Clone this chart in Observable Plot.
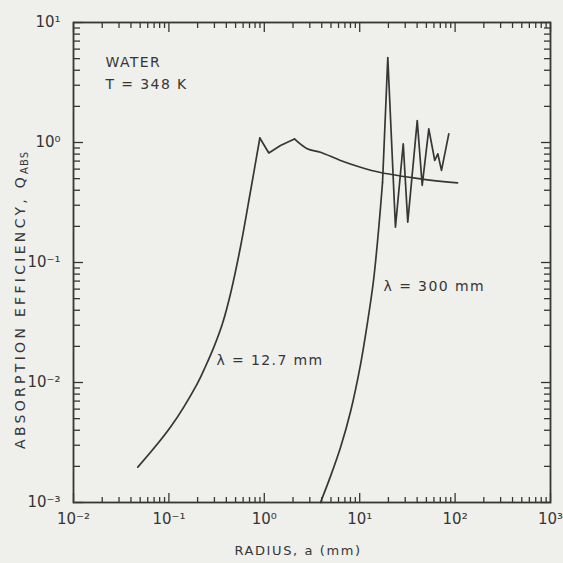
<!DOCTYPE html>
<html><head><meta charset="utf-8">
<script src="https://cdn.jsdelivr.net/npm/d3@7"></script>
<script src="https://cdn.jsdelivr.net/npm/@observablehq/plot@0.6"></script>
<style>
html,body{margin:0;padding:0;background:#efefec;}
#chart svg{display:block;}
</style></head><body><div id="chart"></div>
<script>
// λ = 12.7 mm curve
const radius127 = [0.0472,0.104,0.198,0.2418,0.296,0.3646,0.443,0.564,0.716,0.898,1.115,1.479,2.07,2.82,3.88,6.29,10.2,16.5,43.4,106];
const qabs127   = [0.00197,0.00425,0.00975,0.01359,0.0197,0.031,0.0552,0.136,0.3905,1.09,0.818,0.944,1.07,0.886,0.83,0.708,0.622,0.562,0.498,0.46];
// λ = 300 mm curve
const radius300 = [3.88,4.94,6.29,8.02,10.2,12.07,13.96,15.75,17.35,19.7,23.7,28.6,31.9,40.1,45.2,53.0,61.2,65.9,72.0,85.9];
const qabs300   = [0.001,0.00165,0.00287,0.00573,0.0141,0.0316,0.0708,0.1848,0.464,5.1,0.197,0.975,0.217,1.52,0.44,1.30,0.708,0.805,0.585,1.18];

const xMajor = [0.01,0.1,1,10,100,1000];
const xLabels = ["10\u207B\u00B2","10\u207B\u00B9","10\u2070","10\u00B9","10\u00B2","10\u00B3"];
const yMajor = [0.001,0.01,0.1,1,10];
const yLabels = ["10\u207B\u00B3","10\u207B\u00B2","10\u207B\u00B9","10\u2070","10\u00B9"];

const noteLines = ["WATER","T = 348 K"];
const curveLabels = ["\u03BB = 12.7 mm","\u03BB = 300 mm"];
const curveLabelR = [0.315, 17.8];
const curveLabelQ = [0.0152, 0.063];

const xTitle = "RADIUS, a (mm)";
const yTitleMain = "ABSORPTION EFFICIENCY, Q";
const yTitleSub = "ABS";

const d127 = radius127.map((r,i)=>({r, q:qabs127[i]}));
const d300 = radius300.map((r,i)=>({r, q:qabs300[i]}));
const labels = curveLabels.map((t,i)=>({t, r:curveLabelR[i], q:curveLabelQ[i]}));

// smooth stretches vs. sharp-cornered stretches of each curve
const peak127 = 9, tail127 = 12, top300 = 8;
const c127a = d127.slice(0, peak127 + 1);
const c127b = d127.slice(peak127, tail127 + 1);
const c127c = d127.slice(tail127);
const c300a = d300.slice(0, top300 + 1);
const c300b = d300.slice(top300);

const minorX = xMajor.slice(0,-1).flatMap(d => d3.range(2,10).map(k => k*d));
const minorY = yMajor.slice(0,-1).flatMap(d => d3.range(2,10).map(k => k*d));

const ink = "#363636";
const font = "DejaVu Sans";
const blank = () => "";
const lineStyle = {x: "r", y: "q", stroke: ink, strokeWidth: 1.7, strokeLinejoin: "round"};

const plot = Plot.plot({
  width: 563, height: 563,
  marginLeft: 73, marginRight: 13, marginTop: 22, marginBottom: 61,
  style: {background: "transparent", fontFamily: font, color: ink},
  x: {type: "log", domain: [0.01, 1000]},
  y: {type: "log", domain: [0.001, 10]},
  marks: [
    Plot.axisX({anchor: "bottom", ticks: minorX, tickSize: -5, tickFormat: blank, label: null, stroke: ink, strokeWidth: 1.3}),
    Plot.axisX({anchor: "bottom", ticks: xMajor, tickSize: -9, tickFormat: blank, label: null, stroke: ink, strokeWidth: 1.3}),
    Plot.axisX({anchor: "top", ticks: minorX, tickSize: -5, tickFormat: blank, label: null, stroke: ink, strokeWidth: 1.3}),
    Plot.axisX({anchor: "top", ticks: xMajor, tickSize: -9, tickFormat: blank, label: null, stroke: ink, strokeWidth: 1.3}),
    Plot.axisY({anchor: "left", ticks: minorY, tickSize: -7, tickFormat: blank, label: null, stroke: ink, strokeWidth: 1.3}),
    Plot.axisY({anchor: "left", ticks: yMajor, tickSize: -10, tickFormat: blank, label: null, stroke: ink, strokeWidth: 1.3}),
    Plot.axisY({anchor: "right", ticks: minorY, tickSize: -7, tickFormat: blank, label: null, stroke: ink, strokeWidth: 1.3}),
    Plot.axisY({anchor: "right", ticks: yMajor, tickSize: -10, tickFormat: blank, label: null, stroke: ink, strokeWidth: 1.3}),
    Plot.axisX({anchor: "bottom", ticks: xMajor, tickSize: 0, tickPadding: 11, fontSize: 15, fill: ink,
      tickFormat: d => xLabels[xMajor.indexOf(d)], label: null}),
    Plot.axisY({anchor: "left", ticks: yMajor, tickSize: 0, tickPadding: 13, fontSize: 15, fill: ink,
      tickFormat: d => yLabels[yMajor.indexOf(d)], label: null}),
    Plot.frame({stroke: ink, strokeWidth: 1.8}),
    Plot.line(c127a, {...lineStyle, curve: "catmull-rom"}),
    Plot.line(c127b, {...lineStyle, curve: "linear"}),
    Plot.line(c127c, {...lineStyle, curve: "catmull-rom"}),
    Plot.line(c300a, {...lineStyle, curve: "catmull-rom"}),
    Plot.line(c300b, {...lineStyle, curve: "linear"}),
    Plot.text(labels, {x: "r", y: "q", text: "t", textAnchor: "start", fontSize: 14, fill: ink}),
    Plot.text([noteLines.join("\n")], {frameAnchor: "top-left", dx: 32, dy: 29, lineAnchor: "top",
      textAnchor: "start", fontSize: 14, lineHeight: 1.55, fill: ink})
  ]
});

document.getElementById("chart").appendChild(plot);

const svg = d3.select(plot);
// widen the hand-lettered note / curve labels
svg.selectAll("text").filter(function(){ return /WATER|\u03BB/.test(this.textContent); })
  .attr("letter-spacing", 1.4);

svg.append("text")
  .attr("x", 298).attr("y", 555)
  .attr("text-anchor", "middle")
  .attr("font-family", font).attr("font-size", 13)
  .attr("letter-spacing", 1.6)
  .attr("fill", ink)
  .text(xTitle);

const yt = svg.append("text")
  .attr("transform", "translate(25,300) rotate(-90)")
  .attr("text-anchor", "middle")
  .attr("font-family", font).attr("font-size", 14)
  .attr("letter-spacing", 3.3)
  .attr("fill", ink);
yt.append("tspan").text(yTitleMain);
yt.append("tspan").attr("font-size", 10).attr("dy", 3).attr("letter-spacing", 1).text(yTitleSub);
</script>
</body></html>
